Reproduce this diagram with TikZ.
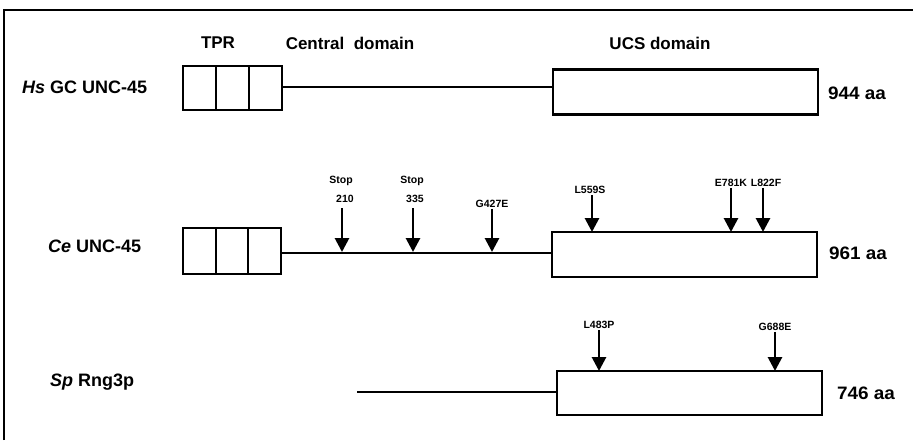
\documentclass[tikz,border=0pt]{standalone}
\usepackage{fontspec}
\setmainfont{Liberation Sans}
\usetikzlibrary{arrows.meta}
\begin{document}
\begin{tikzpicture}[x=1pt,y=-1pt,
  tprbox/.style={draw,line width=2pt,minimum width=33pt,minimum height=44pt,inner sep=0pt,outer sep=0pt},
  ucsbox/.style={draw,line width=2.4pt,minimum width=265pt,minimum height=45pt,inner sep=0pt,outer sep=0pt},
  chain/.style={line width=2.8pt},
  mut/.style={line width=2.8pt,-{Triangle[width=14pt,length=14pt]}},
  lbl/.style={font=\bfseries\fontsize{18}{20}\selectfont,anchor=west,inner sep=0pt},
  head/.style={font=\bfseries\fontsize{17}{19}\selectfont,inner sep=0pt},
  mlab/.style={font=\bfseries\fontsize{10.5}{12}\selectfont,inner sep=1pt},
  aa/.style={font=\bfseries\fontsize{18}{20}\selectfont\addfontfeature{FakeStretch=1.05},anchor=west,inner sep=0pt}]
\useasboundingbox (0,0) rectangle (913,440);
% frame
\draw[line width=1.8pt] (4,440) -- (4,10) -- (913,10);
% headings
\node[head] (htpr) at (218,43) {TPR};
\node[head] (hcen) at (350,43) {Central\ \ domain};
\node[head] (hucs) at (660,43) {UCS domain};
% Row 1
\node[lbl] (l1) at (22,87) {\itshape Hs\upshape\ GC UNC-45};
\node[tprbox] (t1a) at (199.5,88) {};
\node[tprbox] (t1b) at (232.5,88) {};
\node[tprbox] (t1c) at (265.5,88) {};
\node[ucsbox] (u1) at (685.5,92) {};
\draw[chain] (t1c.east |- 0,87) -- (u1.west |- 0,87);
\node[aa] (aa1) at (828,93) {944 aa};
% Row 2
\node[lbl] (l2) at (48,246) {\itshape Ce\upshape\ UNC-45};
\node[tprbox,minimum height=46pt,minimum width=32.5pt] (t2a) at (199.25,251) {};
\node[tprbox,minimum height=46pt,minimum width=32.5pt] (t2b) at (231.75,251) {};
\node[tprbox,minimum height=46pt,minimum width=32.5pt] (t2c) at (264.25,251) {};
\node[ucsbox] (u2) at (684.5,254.5) {};
\draw[chain] (t2c.east |- 0,253) -- (u2.west |- 0,253);
\node[aa] (aa2) at (829,253) {961 aa};
% stop arrows
\node[mlab] (s1) at (341,181) {Stop};
\node[mlab] (n210) at (345,199) {210};
\coordinate (a210) at (342,252);
\draw[mut] (342,208) -- (a210);
\node[mlab] (s2) at (412,181) {Stop};
\node[mlab] (n335) at (415,199) {335};
\coordinate (a335) at (413,252);
\draw[mut] (413,208) -- (a335);
\node[mlab] (g427) at (492,204) {G427E};
\coordinate (a427) at (492,252);
\draw[mut] (g427.south) -- (a427);
\node[mlab] (l559) at (590,190) {L559S};
\draw[mut] ([xshift=2pt]l559.south) -- ([xshift=2pt]l559.south |- u2.north);
\node[mlab] (e781) at (731,183) {E781K};
\draw[mut] (e781.south) -- (e781.south |- u2.north);
\node[mlab] (l822) at (766,183) {L822F};
\draw[mut] ([xshift=-3pt]l822.south) -- ([xshift=-3pt]l822.south |- u2.north);
% Row 3
\node[lbl] (l3) at (50,382) {\itshape Sp\upshape\ Rng3p};
\node[ucsbox,minimum height=44pt] (u3) at (689.5,393) {};
\coordinate (c3) at (357,392);
\draw[chain] (c3) -- (u3.west |- c3);
\node[aa] (aa3) at (837,393) {746 aa};
\node[mlab] (l483) at (599,325) {L483P};
\draw[mut] (l483.south) -- (l483.south |- u3.north);
\node[mlab] (g688) at (775,327) {G688E};
\draw[mut] (g688.south) -- (g688.south |- u3.north);
\end{tikzpicture}
\end{document}
